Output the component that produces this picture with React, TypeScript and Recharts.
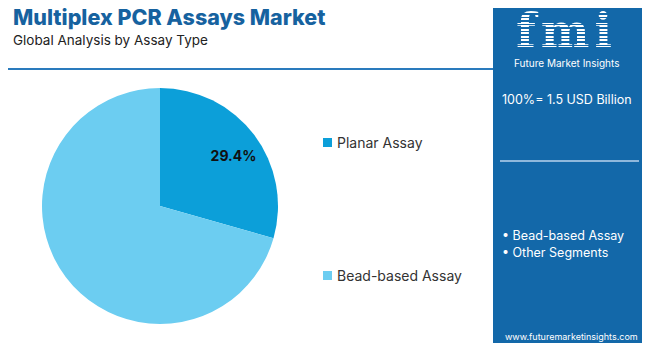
import React from 'react';
import { PieChart, Pie, Cell, Legend } from 'recharts';

const segments = ['Planar Assay', 'Bead-based Assay'];
const shares = [29.4, 70.6];
const colors = ['#0c9fd9', '#6ccdf1'];
const panelItems = ['Bead-based Assay', 'Other Segments'];
const bottomBars = ['#8cc540', '#e05f2b', '#8b3c94'];

const data = segments.map((name, i) => ({ name, value: shares[i] }));

const FONT = 'Inter, "Open Sans", sans-serif';

function renderLabel(props: any) {
  const { cx, cy, midAngle, outerRadius, index, value } = props;
  if (index !== 0) return null;
  const RAD = Math.PI / 180;
  const r = outerRadius * 0.76;
  const x = cx + r * Math.cos(-midAngle * RAD) + 2;
  const y = cy + r * Math.sin(-midAngle * RAD) + 4;
  return (
    <text x={x} y={y} textAnchor="middle" dominantBaseline="central" fill="#111" fontSize={14} fontWeight={700} fontFamily={FONT}>
      {value.toFixed(1)}%
    </text>
  );
}

function renderLegend() {
  return (
    <div style={{ fontFamily: FONT, fontSize: 14, color: '#333' }}>
      {data.map((d, i) => (
        <div key={d.name} style={{ display: 'flex', alignItems: 'center', height: 20, marginBottom: i === 0 ? 113 : 0 }}>
          <span style={{ width: 9, height: 9, background: colors[i], marginRight: 5, display: 'inline-block' }} />
          {d.name}
        </div>
      ))}
    </div>
  );
}

export default function App() {
  return (
    <div style={{ position: 'relative', width: 650, height: 351, margin: -8, background: '#fff', overflow: 'hidden', fontFamily: FONT }}>
      <div style={{ position: 'absolute', left: 0, top: 0, width: 1, height: 351, background: '#ddd' }} />
      <div style={{ position: 'absolute', left: 13, top: 4, fontSize: 21.5, fontWeight: 800, color: '#16629f', whiteSpace: 'nowrap' }}>
        Multiplex PCR Assays Market
      </div>
      <div style={{ position: 'absolute', left: 13, top: 32, fontSize: 13.5, color: '#222', whiteSpace: 'nowrap' }}>
        Global Analysis by Assay Type
      </div>
      <div style={{ position: 'absolute', left: 5, top: 68, width: 488, height: 2, background: '#2a7bbd' }} />

      <div style={{ position: 'absolute', left: 0, top: 0 }}>
        <PieChart width={490} height={345} margin={{ top: 0, right: 0, bottom: 0, left: 0 }}>
          <Pie
            data={data}
            dataKey="value"
            nameKey="name"
            cx={160}
            cy={206}
            outerRadius={118}
            startAngle={90}
            endAngle={-270}
            stroke="none"
            label={renderLabel}
            labelLine={false}
            isAnimationActive={false}
          >
            {data.map((d, i) => (
              <Cell key={d.name} fill={colors[i]} />
            ))}
          </Pie>
          <Legend layout="vertical" verticalAlign="top" align="right" content={renderLegend} wrapperStyle={{ left: 323, top: 132, width: 160 }} />
        </PieChart>
      </div>

      <div style={{ position: 'absolute', left: 493, top: 5, width: 153, height: 346, background: '#1368a9', color: '#fff' }}>
        <div
          style={{
            position: 'absolute',
            left: 23,
            top: 3,
            fontSize: 46,
            lineHeight: '46px',
            fontWeight: 900,
            fontFamily: '"DejaVu Serif", serif',
            letterSpacing: 5,
            backgroundImage: 'repeating-linear-gradient(to bottom, #fff 0px, #fff 2px, transparent 2px, transparent 3.5px)',
            WebkitBackgroundClip: 'text',
            backgroundClip: 'text',
            color: 'transparent',
          }}
        >
          fmi
        </div>
        <div style={{ position: 'absolute', left: 21, top: 52, fontSize: 10, whiteSpace: 'nowrap' }}>Future Market Insights</div>
        <div style={{ position: 'absolute', left: 9, top: 87, fontSize: 12.5, whiteSpace: 'nowrap' }}>100%= 1.5 USD Billion</div>
        <div style={{ position: 'absolute', left: 7, top: 155, width: 139, height: 2, background: '#8fb8dc' }} />
        <div style={{ position: 'absolute', left: 9, top: 222, fontSize: 12.5, lineHeight: '17px' }}>
          {panelItems.map((t) => (
            <div key={t}>• {t}</div>
          ))}
        </div>
        <div style={{ position: 'absolute', left: 12, top: 326, fontSize: 9, whiteSpace: 'nowrap' }}>www.futuremarketinsights.com</div>
      </div>

      <div style={{ position: 'absolute', left: 3, top: 346, display: 'flex', width: 490, height: 5 }}>
        {bottomBars.map((c) => (
          <div key={c} style={{ flex: 1, background: c }} />
        ))}
      </div>
    </div>
  );
}
